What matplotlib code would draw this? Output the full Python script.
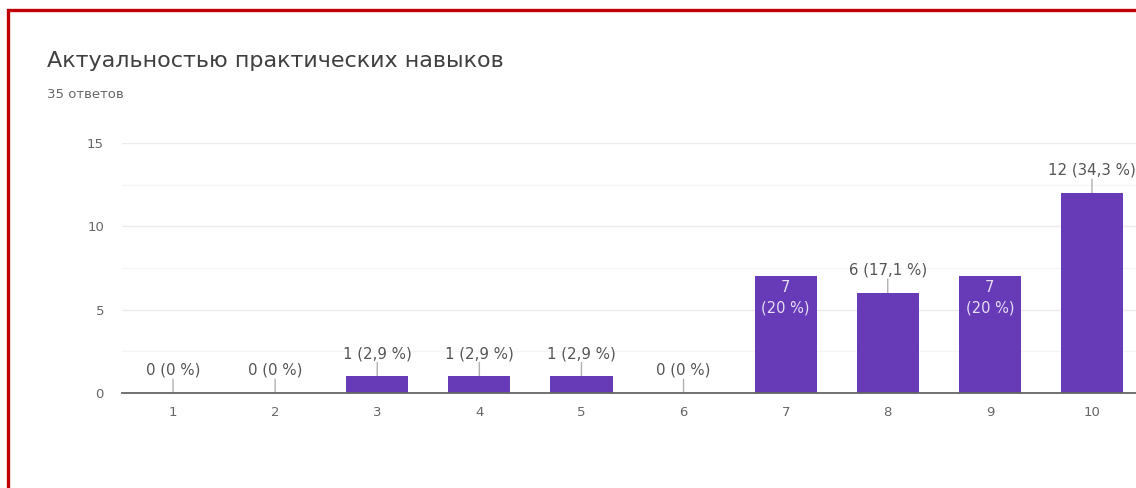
import matplotlib.pyplot as plt
from matplotlib.patches import Rectangle

# данные
categories = ["1", "2", "3", "4", "5", "6", "7", "8", "9", "10"]
counts = [0, 0, 1, 1, 1, 0, 7, 6, 7, 12]
percents = ["0", "0", "2,9", "2,9", "2,9", "0", "20", "17,1", "20", "34,3"]
inside_label = [False, False, False, False, False, False, True, False, True, False]
y_ticks = [0, 5, 10, 15]

title = "Актуальностью практических навыков"
subtitle = "35 ответов"

BAR_COLOR = "#673ab7"
TEXT_GRAY = "#666666"

plt.rcParams['font.family'] = ['DejaVu Sans']

W, H = 1136, 488
fig = plt.figure(figsize=(W / 100, H / 100), dpi=100, facecolor='white')

# оси в пикселях: слева 122, справа 1143 (выходит за край), 0 на y=393, 15 на y=143
left, right = 122, 1143
y0, y15 = 393, 143
ax = fig.add_axes([left / W, (H - y0) / H, (right - left) / W, (y0 - y15) / H])

x = list(range(1, len(categories) + 1))
ax.bar(x, counts, width=0.61, color=BAR_COLOR, zorder=3)

ax.set_xlim(0.5, 10.5)
ax.set_ylim(0, 15)
ax.set_yticks(y_ticks)
ax.set_yticks([2.5, 7.5, 12.5], minor=True)
ax.set_xticks(x)
ax.set_xticklabels(categories)

ax.grid(axis='y', which='major', color='#ebebeb', linewidth=1, zorder=0)
ax.grid(axis='y', which='minor', color='#f5f5f5', linewidth=1, zorder=0)
for s in ['top', 'right', 'left']:
    ax.spines[s].set_visible(False)
ax.spines['bottom'].set_color('#666666')
ax.spines['bottom'].set_linewidth(1.3)
ax.spines['bottom'].set_zorder(4)
ax.tick_params(axis='both', which='both', length=0, colors=TEXT_GRAY, labelsize=9.5)
ax.tick_params(axis='y', pad=13)
ax.tick_params(axis='x', pad=9)

# подписи значений
for xi, c, p, inside in zip(x, counts, percents, inside_label):
    if inside:
        ax.annotate(f"{c}\n({p} %)", (xi, c), xytext=(0, -3), textcoords='offset points',
                    ha='center', va='top', fontsize=10.5, color='#e6def5',
                    linespacing=1.4, zorder=5)
    else:
        ax.annotate("", (xi, c), xytext=(0, 10), textcoords='offset points',
                    arrowprops=dict(arrowstyle='-', color='#b0b0b0', lw=1,
                                    shrinkA=0, shrinkB=0), zorder=2)
        ax.annotate(f"{c} ({p} %)", (xi, c), xytext=(0, 11), textcoords='offset points',
                    ha='center', va='bottom', fontsize=10.8, color='#555555',
                    annotation_clip=False, zorder=5)

fig.text(47 / W, 1 - 61 / H, title, fontsize=16, color='#404040', va='center', ha='left')
fig.text(47 / W, 1 - 95 / H, subtitle, fontsize=9.5, color='#666666', va='center', ha='left')

# красная рамка
fig.add_artist(Rectangle((8 / W, -0.1), 1.2, 1 - 10 / H + 0.1, transform=fig.transFigure,
                         fill=False, edgecolor='#c00000', linewidth=2.4))

fig.savefig('out.png', dpi=100, facecolor='white')
